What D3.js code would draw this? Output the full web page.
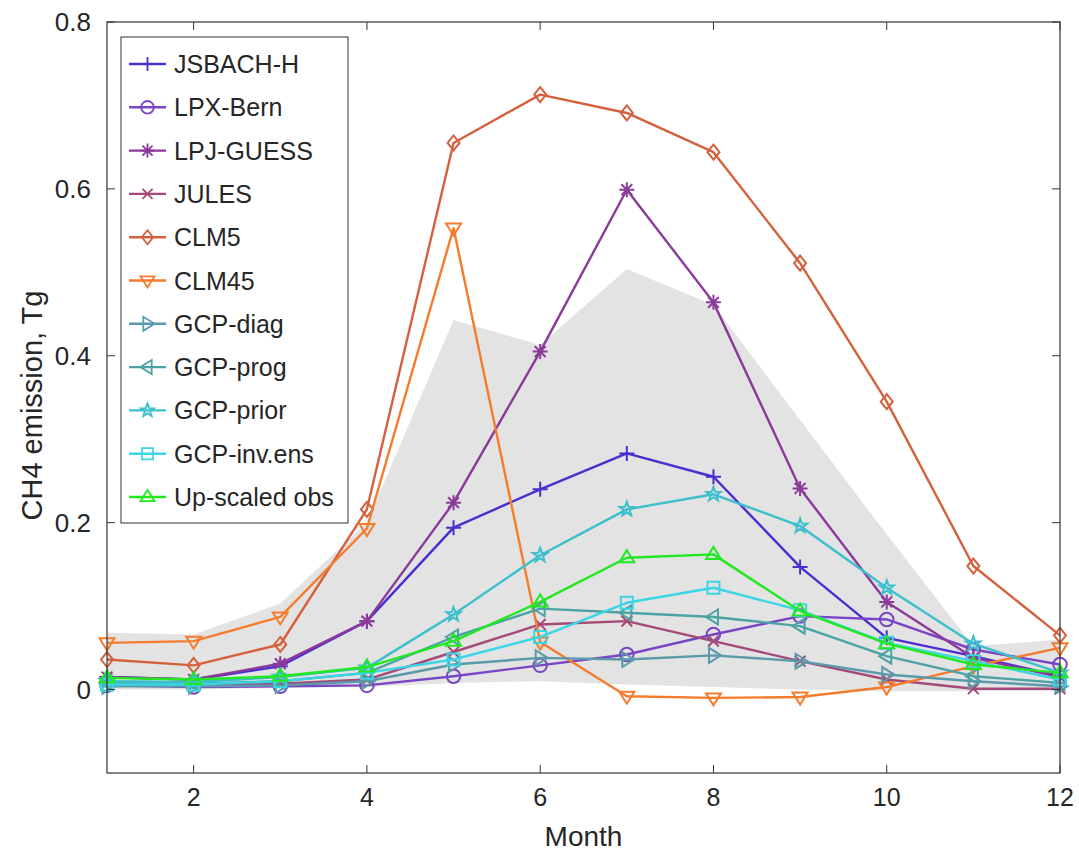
<!DOCTYPE html>
<html>
<head>
<meta charset="utf-8">
<script src="https://cdn.jsdelivr.net/npm/d3@7"></script>
<style>
  body { margin: 0; background: #fff; }
  svg { display: block; font-family: "Liberation Sans", Arial, Helvetica, sans-serif; }
</style>
</head>
<body>
<script>
const months = [1, 2, 3, 4, 5, 6, 7, 8, 9, 10, 11, 12]
const xTicks = [2, 4, 6, 8, 10, 12]
const yTicks = [0, 0.2, 0.4, 0.6, 0.8]

const seriesNames = ['JSBACH-H', 'LPX-Bern', 'LPJ-GUESS', 'JULES', 'CLM5', 'CLM45',
  'GCP-diag', 'GCP-prog', 'GCP-prior', 'GCP-inv.ens', 'Up-scaled obs']
const seriesColors = ['#4a2ed0', '#7a45c5', '#8b3a9a', '#a44a78', '#d5603d', '#f47c2c',
  '#5b9aaa', '#4ba3a3', '#3bbfcc', '#3cd5e5', '#22e822']
const seriesMarkers = ['plus', 'circle', 'asterisk', 'cross', 'diamond', 'triDown',
  'triRight', 'triLeft', 'star', 'square', 'triUp']

// monthly CH4 emission, Tg
const jsbach = [0.015, 0.012, 0.028, 0.082, 0.194, 0.240, 0.283, 0.255, 0.147, 0.062, 0.040, 0.016]
const lpxBern = [0.005, 0.003, 0.004, 0.005, 0.016, 0.029, 0.042, 0.066, 0.088, 0.084, 0.048, 0.030]
const lpjGuess = [0.015, 0.012, 0.031, 0.082, 0.224, 0.405, 0.599, 0.464, 0.241, 0.105, 0.038, 0.015]
const jules = [0.008, 0.006, 0.007, 0.012, 0.045, 0.078, 0.082, 0.058, 0.034, 0.012, 0.001, 0.001]
const clm5 = [0.036, 0.029, 0.054, 0.216, 0.655, 0.713, 0.691, 0.644, 0.511, 0.345, 0.148, 0.065]
const clm45 = [0.056, 0.058, 0.087, 0.193, 0.553, 0.057, -0.008, -0.010, -0.009, 0.003, 0.028, 0.050]
const gcpDiag = [0.004, 0.004, 0.005, 0.010, 0.030, 0.038, 0.036, 0.041, 0.034, 0.018, 0.010, 0.004]
const gcpProg = [0.008, 0.007, 0.010, 0.020, 0.063, 0.097, 0.092, 0.087, 0.076, 0.040, 0.016, 0.008]
const gcpPrior = [0.010, 0.009, 0.015, 0.026, 0.090, 0.161, 0.216, 0.234, 0.196, 0.122, 0.055, 0.020]
const gcpInv = [0.006, 0.006, 0.010, 0.020, 0.036, 0.063, 0.104, 0.122, 0.095, 0.056, 0.034, 0.012]
const upscaled = [0.014, 0.012, 0.016, 0.027, 0.058, 0.105, 0.158, 0.162, 0.094, 0.055, 0.030, 0.020]

// grey envelope
const bandUpper = [0.068, 0.066, 0.103, 0.200, 0.443, 0.413, 0.504, 0.461, 0.323, 0.186, 0.052, 0.060]
const bandLower = [0.000, 0.000, 0.002, 0.003, 0.008, 0.010, 0.006, 0.003, 0.000, -0.002, -0.002, -0.002]

const seriesValues = [jsbach, lpxBern, lpjGuess, jules, clm5, clm45,
  gcpDiag, gcpProg, gcpPrior, gcpInv, upscaled]

const margin = { top: 22, right: 19, bottom: 82, left: 107 }
const fullWidth = 1079
const fullHeight = 855
const width = fullWidth - margin.left - margin.right
const height = fullHeight - margin.top - margin.bottom
const axisColor = '#333'
const textColor = '#262626'
const tickLen = 8

const x = d3.scaleLinear().domain([1, 12]).range([0, width])
const y = d3.scaleLinear().domain([-0.1, 0.8]).range([height, 0])

const svg = d3.select('body').append('svg')
  .attr('width', fullWidth)
  .attr('height', fullHeight)

const g = svg.append('g')
  .attr('transform', `translate(${margin.left},${margin.top})`)

// ---------------Envelope---------------
const area = d3.area()
  .x((d, i) => x(months[i]))
  .y0((d, i) => y(bandLower[i]))
  .y1(d => y(d))

g.append('path')
  .datum(bandUpper)
  .attr('fill', '#e3e3e3')
  .attr('d', area)

// ---------------Markers---------------
function markerPath(type, r) {
  const t = r * 0.72
  switch (type) {
    case 'plus': return `M${-r},0H${r}M0,${-r}V${r}`
    case 'cross': return `M${-t},${-t}L${t},${t}M${-t},${t}L${t},${-t}`
    case 'asterisk': return `M${-r},0H${r}M0,${-r}V${r}M${-t},${-t}L${t},${t}M${-t},${t}L${t},${-t}`
    case 'diamond': return `M0,${-r}L${r * 0.8},0L0,${r}L${-r * 0.8},0Z`
    case 'triDown': return `M${-r},${-r * 0.6}L${r},${-r * 0.6}L0,${r}Z`
    case 'triUp': return `M${-r},${r * 0.6}L${r},${r * 0.6}L0,${-r}Z`
    case 'triRight': return `M${-r * 0.6},${-r}L${-r * 0.6},${r}L${r},0Z`
    case 'triLeft': return `M${r * 0.6},${-r}L${r * 0.6},${r}L${-r},0Z`
    case 'square': return `M${-r * 0.8},${-r * 0.8}H${r * 0.8}V${r * 0.8}H${-r * 0.8}Z`
    case 'circle': return d3.arc()({ innerRadius: 0, outerRadius: r * 0.9, startAngle: 0, endAngle: 2 * Math.PI })
    case 'star': {
      let pts = []
      for (let k = 0; k < 10; k++) {
        const rad = k % 2 === 0 ? r : r * 0.4
        const a = -Math.PI / 2 + k * Math.PI / 5
        pts.push([rad * Math.cos(a), rad * Math.sin(a)])
      }
      return 'M' + pts.map(p => p.join(',')).join('L') + 'Z'
    }
  }
}

// ---------------Lines---------------
const line = d3.line()
  .x((d, i) => x(months[i]))
  .y(d => y(d))

seriesValues.forEach((vals, s) => {
  const sg = g.append('g')
  sg.append('path')
    .datum(vals)
    .attr('fill', 'none')
    .attr('stroke', seriesColors[s])
    .attr('stroke-width', 2.4)
    .attr('stroke-linejoin', 'round')
    .attr('d', line)

  sg.selectAll('.mk')
    .data(vals)
    .enter().append('path')
    .attr('class', 'mk')
    .attr('transform', (d, i) => `translate(${x(months[i])},${y(d)})`)
    .attr('d', markerPath(seriesMarkers[s], 7.5))
    .attr('fill', 'none')
    .attr('stroke', seriesColors[s])
    .attr('stroke-width', 2)
})

// ---------------Axes box & ticks---------------
g.append('rect')
  .attr('width', width)
  .attr('height', height)
  .attr('fill', 'none')
  .attr('stroke', axisColor)
  .attr('stroke-width', 1.2)

xTicks.forEach(t => {
  g.append('path')
    .attr('d', `M${x(t)},${height}v${-tickLen}M${x(t)},0v${tickLen}`)
    .attr('stroke', axisColor)
  g.append('text')
    .attr('x', x(t))
    .attr('y', height + 33)
    .attr('text-anchor', 'middle')
    .attr('font-size', 25)
    .attr('fill', textColor)
    .text(t)
})

yTicks.forEach(t => {
  g.append('path')
    .attr('d', `M0,${y(t)}h${tickLen}M${width},${y(t)}h${-tickLen}`)
    .attr('stroke', axisColor)
  g.append('text')
    .attr('x', -16)
    .attr('y', y(t))
    .attr('dy', '0.35em')
    .attr('text-anchor', 'end')
    .attr('font-size', 26)
    .attr('fill', textColor)
    .text(t === 0 ? '0' : d3.format('.1f')(t))
})

svg.append('text')
  .attr('x', margin.left + width / 2)
  .attr('y', 846)
  .attr('text-anchor', 'middle')
  .attr('font-size', 28)
  .attr('fill', textColor)
  .text('Month')

svg.append('text')
  .attr('transform', `translate(42,${margin.top + height / 2 + 8}) rotate(-90)`)
  .attr('text-anchor', 'middle')
  .attr('font-size', 29)
  .attr('fill', textColor)
  .text('CH4 emission, Tg')

// ---------------Legend---------------
const legend = svg.append('g')

legend.append('rect')
  .attr('x', 121)
  .attr('y', 37)
  .attr('width', 227)
  .attr('height', 486)
  .attr('fill', '#fff')
  .attr('stroke', axisColor)
  .attr('stroke-width', 1)

seriesNames.forEach((name, s) => {
  const ly = 64 + s * 43.3
  legend.append('line')
    .attr('x1', 129).attr('x2', 166)
    .attr('y1', ly).attr('y2', ly)
    .attr('stroke', seriesColors[s])
    .attr('stroke-width', 2.4)
  legend.append('path')
    .attr('transform', `translate(147.5,${ly})`)
    .attr('d', markerPath(seriesMarkers[s], 7))
    .attr('fill', 'none')
    .attr('stroke', seriesColors[s])
    .attr('stroke-width', 1.8)
  legend.append('text')
    .attr('x', 174)
    .attr('y', ly + 9)
    .attr('font-size', 25)
    .attr('fill', textColor)
    .text(name)
})
</script>
</body>
</html>
